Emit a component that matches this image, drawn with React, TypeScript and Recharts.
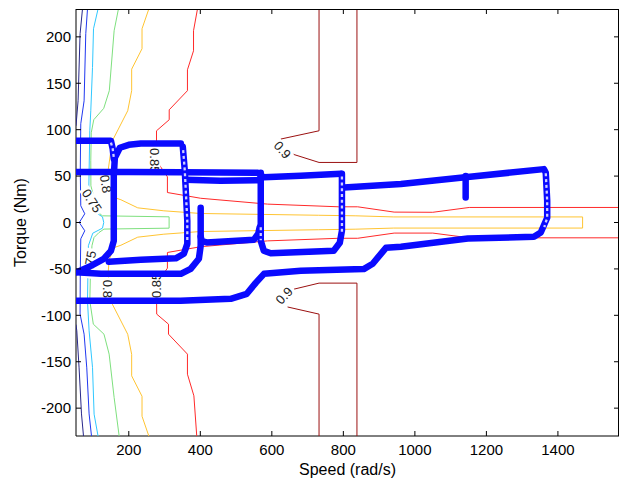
import React from 'react';
import { ScatterChart, Scatter, XAxis, YAxis } from 'recharts';

const FONT = '"Liberation Sans", Arial, Helvetica, sans-serif';

const CHART_W = 627;
const CHART_H = 479;
const MARGIN = { top: 9, right: 8, bottom: 0, left: 0 };
const X_AXIS_H = 43;
const Y_AXIS_W = 76;
const PLOT_L = MARGIN.left + Y_AXIS_W;
const PLOT_T = MARGIN.top;
const PLOT_W = CHART_W - MARGIN.left - MARGIN.right - Y_AXIS_W;
const PLOT_H = CHART_H - MARGIN.top - MARGIN.bottom - X_AXIS_H;

const speedDomain: [number, number] = [52.36, 1570.8];
const torqueDomain: [number, number] = [-230, 230];
const speedTicks = [200, 400, 600, 800, 1000, 1200, 1400];
const torqueTicks = [-200, -150, -100, -50, 0, 50, 100, 150, 200];

type P = [number, number];

// Efficiency contour lines [speed rad/s, torque Nm]
const level060Upper: P[] = [[70.5, 230], [63.8, 203.4], [58.2, 131.1], [52.4, 104.2]];
const level060Lower: P[] = [[52.4, -110], [54.6, -116.7], [61, -156.6], [67.7, -206.2], [73.3, -230]];
const level065: P[] = [
  [84.5, 230], [79.7, 203.4], [75, 131.1], [65.7, 106.4], [64.3, 55.7], [65.7, 18], [76.9, 9.4], [61.5, 0],
  [76.9, -8.9], [65.7, -17.6], [64.3, -55.3], [63.8, -98.7], [75, -120.3], [82.5, -156.6], [89, -206.2], [95.7, -230],
];
const level070: P[] = [
  [114, 230], [101.3, 208.7], [98.5, 167], [93.7, 120.4], [90.9, 98.8], [88.1, 34.2], [99.3, 12.6], [126.4, 6.1],
  [130, 0], [126.4, -6.1], [99.3, -11.5], [87, -25], [84.5, -84.4], [89, -116.7], [98.5, -156], [103, -206.5], [114, -230],
];
const level075: P[] = [
  [171, 230], [159, 206.6], [145.5, 142], [130, 123], [102, 110.7], [95, 96.7], [93.7, 66.5], [94, 39.5], [113, 11.5],
  [126, 7.2], [312.7, 6.1], [312.7, -6.1], [130.6, -7.1], [116.7, -10.8], [102.7, -16.2], [97, -25], [93, -50], [91, -84.4],
  [100.8, -109.5], [130.6, -120.3], [145, -141.8], [159, -188.6], [173, -230],
];
const level080: P[] = [
  [256, 230], [237, 208.7], [237, 187.2], [208, 165.2], [208, 142], [197, 120.4], [154, 88], [150, 77.3], [142, 55.7],
  [145, 40], [159, 27], [178, 24.5], [225, 15.8], [298, 12.6], [401, 9.7], [731, 7.8], [835, 7.2], [941, 6], [1469, 6],
  [1469, -6], [941, -6], [835, -7.2], [731, -7.8], [401, -9.7], [298, -12.6], [225, -15.8], [178, -24.5], [159, -27],
  [145, -40], [142, -55.7], [150, -77.3], [154, -88], [197, -120.4], [208, -142], [208, -165.2], [237, -187.2],
  [237, -208.7], [256, -230],
];
const level085Upper: P[] = [
  [392, 230], [381, 206.6], [381, 185], [364, 164.5], [364, 142], [313, 121.4], [313, 110.7], [277.5, 98.8],
  [277.5, 66.5], [308, 49.2], [308, 32.3], [401, 26.1], [588, 19.8], [787, 16.9], [840, 16.9], [942, 11.2],
  [1050, 11], [1152, 16.2], [1571, 16.2],
];
const level085Lower: P[] = [
  [1571, -16.5], [1152, -16.5], [1050, -11.4], [942, -11.4], [840, -17], [787, -17], [588, -19.8], [401, -26.1],
  [308, -32.3], [308, -49.2], [277.5, -66.5], [278, -98.7], [311, -109.5], [311, -120.3], [364, -141.8],
  [364, -163.4], [382, -186.7], [390, -230],
];
const level090UpperA: P[] = [[732, 230], [732, 98.8], [625, 89.9]];
const level090UpperB: P[] = [[658, 73.7], [732, 64.7], [838, 64.7], [838, 230]];
const level090LowerA: P[] = [[732, -230], [732, -98.7], [644, -91]];
const level090LowerB: P[] = [[662, -71.8], [732, -65.3], [838, -65.3], [838, -230]];

// Contour labels
const labelText = ['0.9', '0.9', '0.85', '0.85', '0.8', '0.8', '0.75', '0.75'];
const labelSpeed = [630, 634, 273, 278, 136, 141, 97, 90];
const labelTorque = [78.3, -78.7, 66.5, -67.7, 41.7, -71.5, 23.4, -44];
const labelAngle = [49, -47, 90, -90, 80, 90, 57, -80];

// Operating points (drive cycle) [speed, torque]
const run1: P[] = [[53, 88], [150, 88], [155, 79.4], [158, 68.6]];
const run2: P[] = [
  [345.5, 85.1], [233.6, 85.1], [200, 83.7], [175, 80.5], [161, 69.7], [158, 50.3], [158, -19.7], [150, -30.5],
  [130, -39.1], [94, -46.7], [53, -53.7],
];
const run3: P[] = [
  [351, 81.6], [356.6, 55.7], [363.6, 1.8], [363.6, -23], [354, -33.7], [331.5, -38.6], [233.6, -40.2], [144, -42.3],
];
const run4: P[] = [[53, 54.5], [200, 54.5], [345.5, 54], [561, 53.5], [577.6, 48.7], [681, 50.3], [793, 52.5]];
const run5: P[] = [[359, 46], [457, 44.9], [561, 45.5]];
const run6: P[] = [[53, -53.5], [122, -55.3], [345.5, -55.3], [373, -49.9], [396, -39.1], [401, -25.1], [401, 15.8]];
const run7: P[] = [[401, -15], [404, -20], [418, -21.5], [550, -18.5], [562, -12], [566, -5]];
const run8: P[] = [
  [569, 53.6], [569, -19.7], [577.6, -30.5], [597, -33.2], [773, -30.5], [790, -21.9], [796, -8.9], [796, 52.5],
];
const run9: P[] = [
  [802, 37.7], [961, 41.4], [1134, 48.5], [1361, 57.5], [1366, 53.6], [1370, 23.4], [1370, 5.1], [1352, -10.8],
  [1333, -15.4], [1148, -17.2], [961, -26.2], [919, -27.3], [905, -33.7], [882, -44.5], [857, -50.2], [681, -52],
  [578, -55.3], [555, -65], [530, -76.8], [485, -82.2], [345, -84.4], [53, -84.4],
];
const run10: P[] = [[1142, 50], [1142, 27]];

// Sparse stretches where the individual open circles are visible
const sparse1: P[] = [[150, 86], [155, 79.4], [158, 70]];
const sparse2: P[] = [[352, 78], [356.6, 55.7], [363.6, 1.8], [363.6, -20]];
const sparse3: P[] = [[796, -10], [796, 50]];
const sparse4: P[] = [[1366, 53], [1370, 23.4], [1370, 5.1], [1362, -5]];
const sparse5: P[] = [[569, -5], [569, -19]];

const pts = (a: P[]) => a.map(([x, y]) => ({ x, y }));

// Mirrored tick marks on the top and right edges of the box
const topTicks = speedTicks.map((x) => ({ x, y: torqueDomain[1] }));
const rightTicks = torqueTicks.map((y) => ({ x: speedDomain[1], y }));

const contours: { data: P[]; color: string }[] = [
  { data: level060Upper, color: '#28288a' },
  { data: level060Lower, color: '#28288a' },
  { data: level065, color: '#2038f0' },
  { data: level070, color: '#30c8ff' },
  { data: level075, color: '#7ee07e' },
  { data: level080, color: '#ffc432' },
  { data: level085Upper, color: '#ff2a2a' },
  { data: level085Lower, color: '#ff2a2a' },
  { data: level090UpperA, color: '#9b1010' },
  { data: level090UpperB, color: '#9b1010' },
  { data: level090LowerA, color: '#9b1010' },
  { data: level090LowerB, color: '#9b1010' },
];

const runs = [run1, run2, run3, run4, run5, run6, run7, run8, run9, run10];
const sparse = [sparse1, sparse2, sparse3, sparse4, sparse5];

const labels = labelText.map((t, i) => ({ x: labelSpeed[i], y: labelTorque[i], text: t, angle: labelAngle[i] }));

const NoShape = () => <g />;
const TopTickShape = ({ cx, cy }: any) => <line x1={cx} y1={cy} x2={cx} y2={cy + 5} stroke="#000" />;
const RightTickShape = ({ cx, cy }: any) => <line x1={cx} y1={cy} x2={cx - 5} y2={cy} stroke="#000" />;

const LabelShape = (props: any) => {
  const { cx, cy } = props;
  const p = props.payload || props;
  const w = p.text.length * 7 + 2;
  return (
    <g transform={`translate(${cx},${cy}) rotate(${p.angle})`}>
      <rect x={-w / 2} y={-5.5} width={w} height={11} fill="#fff" />
      <text x={0} y={0} dy="0.36em" textAnchor="middle" fontSize={13} fontFamily={FONT} fill="#222">
        {p.text}
      </text>
    </g>
  );
};

const BottomTick = ({ x, y, payload }: any) => (
  <g>
    <line x1={x} y1={y} x2={x} y2={y - 5} stroke="#000" />
    <text x={x} y={y + 19} textAnchor="middle" fontSize={15} fontFamily={FONT} fill="#000">
      {payload.value}
    </text>
  </g>
);
const LeftTick = ({ x, y, payload }: any) => (
  <g>
    <line x1={x} y1={y} x2={x + 5} y2={y} stroke="#000" />
    <text x={x - 5} y={y + 5.3} textAnchor="end" fontSize={15} fontFamily={FONT} fill="#000">
      {payload.value}
    </text>
  </g>
);

export default function App() {
  return (
    <div style={{ position: 'absolute', left: 0, top: 0, width: CHART_W, height: CHART_H, background: '#fff' }}>
      <ScatterChart width={CHART_W} height={CHART_H} margin={MARGIN}>
        <XAxis
          dataKey="x"
          type="number"
          domain={speedDomain}
          allowDataOverflow
          ticks={speedTicks}
          interval={0}
          height={X_AXIS_H}
          tickSize={0}
          tickMargin={0}
          tickLine={false}
          tick={BottomTick}
          axisLine={{ stroke: '#000' }}
          label={{ value: 'Speed (rad/s)', position: 'insideBottom', offset: 4, fill: '#000', fontSize: 16, fontFamily: FONT }}
        />
        <YAxis
          dataKey="y"
          type="number"
          domain={torqueDomain}
          allowDataOverflow
          ticks={torqueTicks}
          interval={0}
          width={Y_AXIS_W}
          tickSize={0}
          tickMargin={0}
          tickLine={false}
          tick={LeftTick}
          axisLine={{ stroke: '#000' }}
          label={{
            value: 'Torque (Nm)',
            angle: -90,
            position: 'insideLeft',
            offset: 20,
            fill: '#000',
            fontSize: 16,
            fontFamily: FONT,
            style: { textAnchor: 'middle' },
          }}
        />
        {contours.map((c, i) => (
          <Scatter
            key={'c' + i}
            data={pts(c.data)}
            fill={c.color}
            line={{ stroke: c.color, strokeWidth: 1 }}
            lineType="joint"
            shape={NoShape}
            isAnimationActive={false}
          />
        ))}
        <Scatter data={labels} fill="#222" shape={LabelShape} isAnimationActive={false} />
        {runs.map((r, i) => (
          <Scatter
            key={'r' + i}
            data={pts(r)}
            fill="#0000ff"
            line={{ stroke: '#0a0aff', strokeWidth: 6.5, strokeLinecap: 'round', strokeLinejoin: 'round' }}
            lineType="joint"
            shape={NoShape}
            isAnimationActive={false}
          />
        ))}
        {sparse.map((r, i) => (
          <Scatter
            key={'s' + i}
            data={pts(r)}
            fill="#ffffff"
            line={{ stroke: '#d0d0ff', strokeWidth: 2.3, strokeDasharray: '3 2.8', strokeLinejoin: 'round' }}
            lineType="joint"
            shape={NoShape}
            isAnimationActive={false}
          />
        ))}
        <Scatter data={topTicks} fill="#000" shape={TopTickShape} isAnimationActive={false} />
        <Scatter data={rightTicks} fill="#000" shape={RightTickShape} isAnimationActive={false} />
      </ScatterChart>
      <div
        style={{
          position: 'absolute',
          left: PLOT_L,
          top: PLOT_T,
          width: PLOT_W,
          height: PLOT_H,
          boxSizing: 'border-box',
          borderTop: '1px solid #000',
          borderRight: '1px solid #000',
          pointerEvents: 'none',
        }}
      />
    </div>
  );
}
